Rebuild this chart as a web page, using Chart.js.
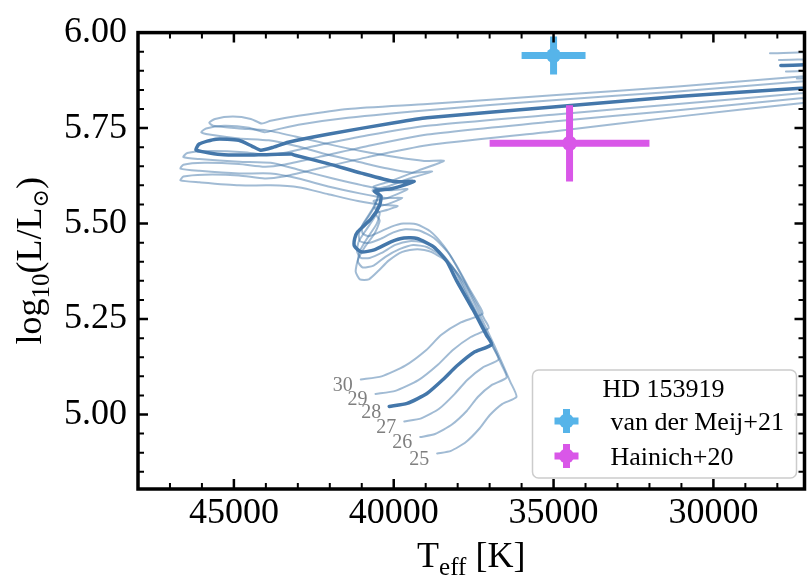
<!DOCTYPE html>
<html>
<head>
<meta charset="utf-8">
<script src="https://cdn.jsdelivr.net/npm/chart.js@4/dist/chart.umd.min.js"></script>
<style>
  html, body { margin: 0; padding: 0; background: #fff; overflow: hidden; }
  #wrap { width: 812px; height: 584px; }
</style>
</head>
<body>
<div id="wrap"><canvas id="hrd" width="812" height="584"></canvas></div>
<script>
// evolutionary tracks, Teff [K] and log L
const masses = [25, 26, 27, 28, 29, 30];
const highlightMass = 28;

const t25 = [38640,38210,37740,37310,37000,36600,36160,36350,36850,37370,37810,38300,38830,39260,39730,40160,40470,40780,41060,41190,41120,40910,40600,40440,40570,40190,39880,40350,41120,42050,42980,43850,44840,46080,46670,46580,45930,44840,44040,43450,42360,40810,38950,35020,31110,27270,25620];
const l25 = [4.898,4.905,4.928,4.964,4.998,5.028,5.046,5.085,5.180,5.272,5.346,5.398,5.426,5.433,5.426,5.403,5.377,5.354,5.354,5.374,5.405,5.438,5.474,5.508,5.526,5.536,5.546,5.549,5.559,5.577,5.595,5.600,5.600,5.608,5.613,5.623,5.628,5.626,5.618,5.623,5.644,5.674,5.705,5.741,5.780,5.815,5.828];

const t26 = [39170,38710,38180,37710,37370,36940,36470,36630,37090,37590,37990,38460,38950,39390,39820,40260,40630,40970,41120,41060,40810,40530,40440,40600,40190,39730,40260,41060,42050,42980,43850,44840,46080,46670,46580,45930,44840,44040,43450,42360,40810,38950,35020,31110,27270,25620,25620,27390];
const l26 = [4.941,4.949,4.974,5.010,5.046,5.077,5.097,5.131,5.213,5.297,5.367,5.413,5.438,5.444,5.433,5.413,5.390,5.385,5.400,5.428,5.464,5.500,5.528,5.541,5.551,5.567,5.567,5.579,5.597,5.618,5.631,5.631,5.638,5.644,5.654,5.659,5.656,5.649,5.654,5.674,5.703,5.733,5.767,5.797,5.828,5.838,5.880,5.880];

const t27 = [39670,39140,38580,38090,37710,37220,36720,36880,37280,37780,38150,38580,39080,39510,39950,40380,40750,41030,41150,41090,40810,40570,40470,40630,40190,39570,40130,40970,41900,42980,43850,44840,46080,46580,46460,45770,44690,43980,43450,42360,40810,38950,35020,31110,27270,25620,25620,27730];
const l27 = [4.982,4.990,5.015,5.054,5.090,5.123,5.144,5.174,5.244,5.323,5.385,5.428,5.451,5.454,5.444,5.423,5.410,5.410,5.428,5.454,5.490,5.521,5.546,5.559,5.567,5.590,5.587,5.600,5.618,5.641,5.659,5.662,5.669,5.674,5.685,5.690,5.687,5.680,5.685,5.705,5.731,5.756,5.785,5.813,5.841,5.851,5.898,5.898];

const t28 = [40140,39580,38960,38440,38030,37510,36940,37100,37510,38030,38340,38750,39270,39680,40090,40610,41020,41230,41220,41130,40710,40450,40400,40600,40040,39360,39980,41020,42060,43090,43200,44230,45310,46180,46090,45560,44850,44440,44160,43760,43300,42060,39980,38960,35020,31120,27270,25630,25630,27890];
const l28 = [5.021,5.029,5.055,5.093,5.127,5.162,5.183,5.208,5.273,5.350,5.401,5.439,5.461,5.462,5.452,5.431,5.426,5.441,5.461,5.478,5.512,5.546,5.572,5.585,5.592,5.610,5.610,5.632,5.657,5.679,5.682,5.680,5.680,5.692,5.708,5.721,5.718,5.703,5.692,5.700,5.713,5.734,5.764,5.777,5.805,5.833,5.854,5.864,5.913,5.914];

const t29 = [40570,39950,39230,38610,38150,37590,37030,37160,37530,37930,38270,38740,39200,39640,40010,40440,40810,41060,41090,41000,40750,40570,40500,40660,40190,39510,38800,39420,40190,41120,42050,43050,43910,44840,45770,46020,45870,45310,44530,44040,43670,42980,41430,38950,35020,31110,27270,25620,25620,27950];
const l29 = [5.054,5.062,5.090,5.131,5.169,5.203,5.226,5.249,5.308,5.372,5.421,5.462,5.482,5.485,5.477,5.459,5.449,5.454,5.472,5.492,5.523,5.551,5.574,5.587,5.597,5.618,5.636,5.633,5.644,5.662,5.680,5.703,5.718,5.723,5.733,5.739,5.749,5.756,5.751,5.739,5.746,5.759,5.777,5.797,5.823,5.846,5.872,5.882,5.928,5.928];

const t30 = [41030,40380,39640,38980,38520,37900,37220,37340,37680,38050,38430,38860,39290,39700,40070,40470,40780,40970,41000,40880,40660,40500,40470,40630,40130,39260,38430,39050,39950,41030,42050,43080,43980,44840,45650,45770,45590,45030,44470,44130,43850,42980,41430,38950,35020,31110,27270,25620,25620,28230];
const l30 = [5.092,5.100,5.128,5.169,5.208,5.241,5.264,5.287,5.336,5.392,5.441,5.480,5.498,5.500,5.492,5.477,5.467,5.474,5.492,5.510,5.539,5.567,5.587,5.597,5.610,5.638,5.664,5.664,5.674,5.690,5.708,5.728,5.744,5.749,5.756,5.764,5.774,5.780,5.774,5.762,5.769,5.782,5.800,5.813,5.836,5.859,5.885,5.895,5.946,5.946];

// HD 153919 measurements
const obsNames = ['van der Meij+21', 'Hainich+20'];
const obsTeff = [35000, 34500];
const obsTeffErr = [1000, 2500];
const obsLogL = [5.94, 5.71];
const obsLogLErr = [0.05, 0.10];
const obsColors = ['#56b4e9', '#d957e8'];
const legendTitle = 'HD 153919';

const xTickValues = [45000, 40000, 35000, 30000];
const yTickValues = [5.00, 5.25, 5.50, 5.75, 6.00];

const trackT = { 25: t25, 26: t26, 27: t27, 28: t28, 29: t29, 30: t30 };
const trackL = { 25: l25, 26: l26, 27: l27, 28: l28, 29: l29, 30: l30 };

const SERIF = '"Liberation Serif", "DejaVu Serif", serif';
const DARK = '#4477aa';
const LIGHT = 'rgba(68,119,170,0.5)';

const trackSets = masses.map(m => ({
  label: String(m),
  mass: m,
  data: trackT[m].map((t, i) => ({ x: t, y: trackL[m][i] })),
  borderColor: m === highlightMass ? DARK : LIGHT,
  borderWidth: m === highlightMass ? 3.5 : 2,
  pointRadius: 0,
  tension: 0.2,
  borderJoinStyle: 'round',
  borderCapStyle: 'round',
  fill: false,
  order: m === highlightMass ? 1 : 2
}));

const obsSets = obsNames.map((name, i) => ({
  label: name,
  data: [{ x: obsTeff[i], y: obsLogL[i] }],
  showLine: false,
  pointRadius: 7.5,
  pointBorderWidth: 0,
  pointBackgroundColor: obsColors[i],
  borderColor: obsColors[i],
  order: 0
}));

function drawPieces(ctx, pieces, x, y) {
  let cx = x;
  pieces.forEach(([txt, size, dy]) => {
    ctx.font = size + 'px ' + SERIF;
    ctx.fillText(txt, cx, y + dy);
    cx += ctx.measureText(txt).width;
  });
}

function piecesWidth(ctx, pieces) {
  let w = 0;
  pieces.forEach(([txt, size]) => {
    ctx.font = size + 'px ' + SERIF;
    w += ctx.measureText(txt).width;
  });
  return w;
}

function drawCrossMarker(ctx, cx, cy, color) {
  ctx.strokeStyle = color;
  ctx.fillStyle = color;
  ctx.lineWidth = 7;
  ctx.beginPath();
  ctx.moveTo(cx - 12, cy); ctx.lineTo(cx + 12, cy);
  ctx.moveTo(cx, cy - 12); ctx.lineTo(cx, cy + 12);
  ctx.stroke();
  ctx.beginPath();
  ctx.arc(cx, cy, 7.5, 0, Math.PI * 2);
  ctx.fill();
}

const errorBars = {
  id: 'errorBars',
  afterDatasetsDraw(chart) {
    const { ctx, chartArea, scales: { x, y } } = chart;
    ctx.save();
    ctx.beginPath();
    ctx.rect(chartArea.left, chartArea.top, chartArea.right - chartArea.left, chartArea.bottom - chartArea.top);
    ctx.clip();
    ctx.lineWidth = 7;
    obsNames.forEach((n, i) => {
      const px = x.getPixelForValue(obsTeff[i]);
      const py = y.getPixelForValue(obsLogL[i]);
      ctx.strokeStyle = obsColors[i];
      ctx.beginPath();
      ctx.moveTo(x.getPixelForValue(obsTeff[i] - obsTeffErr[i]), py);
      ctx.lineTo(x.getPixelForValue(obsTeff[i] + obsTeffErr[i]), py);
      ctx.moveTo(px, y.getPixelForValue(obsLogL[i] - obsLogLErr[i]));
      ctx.lineTo(px, y.getPixelForValue(obsLogL[i] + obsLogLErr[i]));
      ctx.stroke();
    });
    ctx.restore();
  }
};

const frame = {
  id: 'frame',
  afterDraw(chart) {
    const { ctx, chartArea: { left, right, top, bottom }, scales: { x, y } } = chart;
    ctx.save();

    // mass labels at the start of each track
    ctx.fillStyle = '#7f7f7f';
    ctx.font = '20px ' + SERIF;
    ctx.textAlign = 'center';
    ctx.textBaseline = 'middle';
    masses.forEach(m => {
      const px = x.getPixelForValue(trackT[m][0]);
      const py = y.getPixelForValue(trackL[m][0]);
      ctx.fillText(String(m), px - 18, py + 6);
    });

    // inward ticks on all four sides
    ctx.strokeStyle = '#000';
    ctx.lineCap = 'butt';
    for (let v = 27000; v <= 48000; v += 1000) {
      const px = x.getPixelForValue(v);
      if (px < left - 1 || px > right + 1) continue;
      const major = v % 5000 === 0;
      const len = major ? 10 : 6;
      ctx.lineWidth = major ? 2.5 : 2;
      ctx.beginPath();
      ctx.moveTo(px, bottom); ctx.lineTo(px, bottom - len);
      ctx.moveTo(px, top); ctx.lineTo(px, top + len);
      ctx.stroke();
    }
    for (let k = 97; k <= 120; k++) {
      const py = y.getPixelForValue(k * 0.05);
      const major = k % 5 === 0;
      const len = major ? 10 : 6;
      ctx.lineWidth = major ? 2.5 : 2;
      ctx.beginPath();
      ctx.moveTo(left, py); ctx.lineTo(left + len, py);
      ctx.moveTo(right, py); ctx.lineTo(right - len, py);
      ctx.stroke();
    }

    // spines
    ctx.lineWidth = 3.5;
    ctx.strokeRect(left, top, right - left, bottom - top);

    // axis titles
    ctx.fillStyle = '#000';
    ctx.textAlign = 'left';
    ctx.textBaseline = 'alphabetic';
    const xTitle = [['T', 36, 0], ['eff', 25, 8], [' [K]', 36, 0]];
    const xw = piecesWidth(ctx, xTitle);
    drawPieces(ctx, xTitle, (left + right) / 2 - xw / 2, 567);

    const yTitle = [['log', 36, 0], ['10', 25, 8], ['(L/L', 36, 0], ['\u2299', 22, 7], [')', 36, 0]];
    const yw = piecesWidth(ctx, yTitle);
    ctx.save();
    ctx.translate(41, (top + bottom) / 2);
    ctx.rotate(-Math.PI / 2);
    drawPieces(ctx, yTitle, -yw / 2, 0);
    ctx.restore();

    // legend box
    const bx = right - 272, by = bottom - 119, bw = 264, bh = 108;
    ctx.beginPath();
    ctx.roundRect(bx, by, bw, bh, 6);
    ctx.fillStyle = 'rgba(255,255,255,0.8)';
    ctx.fill();
    ctx.strokeStyle = '#cccccc';
    ctx.lineWidth = 1.5;
    ctx.stroke();

    ctx.fillStyle = '#000';
    ctx.font = '26px ' + SERIF;
    ctx.textAlign = 'center';
    ctx.fillText(legendTitle, bx + 131, by + 27);
    ctx.textAlign = 'left';
    obsNames.forEach((name, i) => {
      const cy = by + 51 + i * 35;
      drawCrossMarker(ctx, bx + 34, cy, obsColors[i]);
      ctx.fillStyle = '#000';
      ctx.font = '26px ' + SERIF;
      ctx.fillText(name, bx + 78, cy + 9);
    });

    ctx.restore();
  }
};

new Chart(document.getElementById('hrd'), {
  type: 'line',
  data: { datasets: [...trackSets, ...obsSets] },
  options: {
    responsive: false,
    animation: false,
    events: [],
    layout: { padding: { top: 23, right: 1, left: 0, bottom: 0 } },
    plugins: { legend: { display: false }, tooltip: { enabled: false } },
    scales: {
      x: {
        type: 'linear',
        reverse: true,
        min: 27150,
        max: 48000,
        grid: { display: false, drawTicks: false },
        border: { display: false },
        afterBuildTicks: s => { s.ticks = xTickValues.map(v => ({ value: v })); },
        afterFit: s => { s.height = 95; },
        ticks: {
          autoSkip: false,
          maxRotation: 0,
          padding: 3,
          color: '#000',
          font: { family: SERIF, size: 36 },
          callback: v => String(v)
        }
      },
      y: {
        type: 'linear',
        min: 4.805,
        max: 6.0,
        grid: { display: false, drawTicks: false },
        border: { display: false },
        afterBuildTicks: s => { s.ticks = yTickValues.map(v => ({ value: v })); },
        afterFit: s => { s.width = 138; },
        ticks: {
          autoSkip: false,
          padding: 11,
          color: '#000',
          font: { family: SERIF, size: 36 },
          callback: v => Number(v).toFixed(2)
        }
      }
    }
  },
  plugins: [errorBars, frame]
});
</script>
</body>
</html>
